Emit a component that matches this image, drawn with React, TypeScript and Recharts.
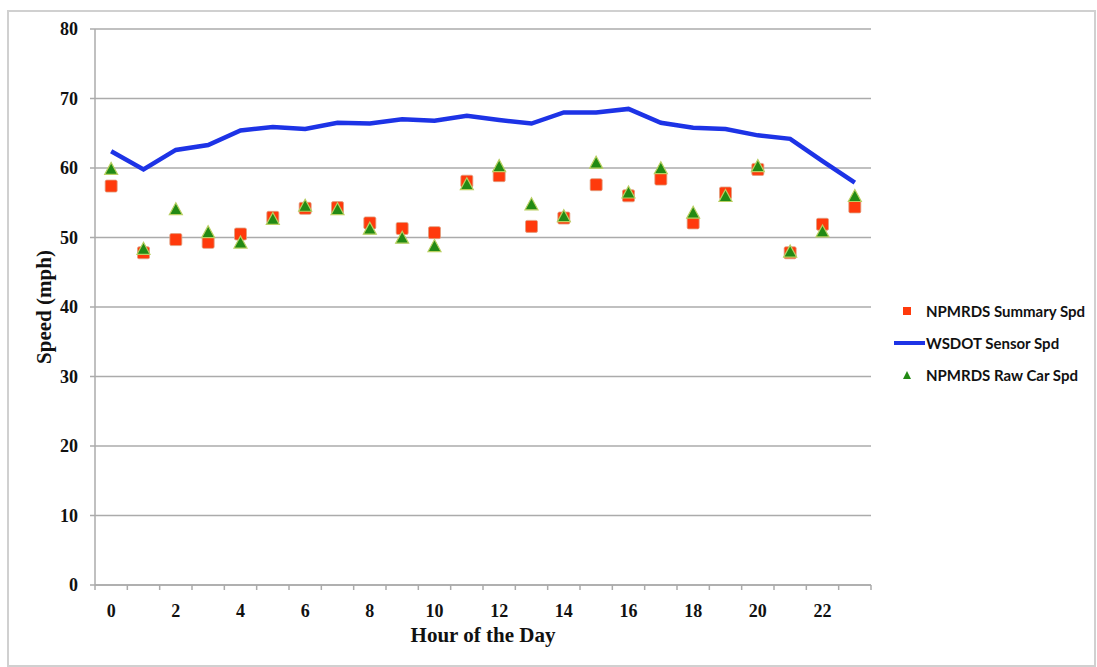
import React from 'react';
import { ComposedChart, Line, Scatter, XAxis, YAxis, CartesianGrid, Label } from 'recharts';

const hours = [0, 1, 2, 3, 4, 5, 6, 7, 8, 9, 10, 11, 12, 13, 14, 15, 16, 17, 18, 19, 20, 21, 22, 23];
const summarySpd = [57.4, 47.8, 49.7, 49.3, 50.5, 52.9, 54.2, 54.3, 52.1, 51.3, 50.7, 58.1, 58.9, 51.6, 52.8, 57.6, 56.0, 58.4, 52.1, 56.4, 59.8, 47.8, 51.9, 54.4];
const sensorSpd = [62.4, 59.8, 62.6, 63.3, 65.4, 65.9, 65.6, 66.5, 66.4, 67.0, 66.8, 67.5, 66.9, 66.4, 68.0, 68.0, 68.5, 66.5, 65.8, 65.6, 64.7, 64.2, 61.0, 57.9];
const rawCarSpd = [59.8, 48.3, 54.0, 50.7, 49.2, 52.6, 54.5, 54.0, 51.2, 49.9, 48.7, 57.6, 60.2, 54.7, 53.0, 60.7, 56.4, 59.9, 53.5, 55.9, 60.2, 47.9, 50.8, 55.9];
const hourLabels = [0, 2, 4, 6, 8, 10, 12, 14, 16, 18, 20, 22];
const speedTicks = [0, 10, 20, 30, 40, 50, 60, 70, 80];

const SERIF = '"Liberation Serif", "Times New Roman", serif';
const SANS = 'Lato, "Open Sans", sans-serif';
const GRID = '#ababab';
const RED = '#ff3a0c';
const BLUE = '#1d33e6';
const GREEN = '#228a14';

const data = hours.map((h, i) => ({
  hour: h,
  summary: summarySpd[i],
  sensor: sensorSpd[i],
  raw: rawCarSpd[i],
}));

// tick marks sit between the hours, labels on every other hour
const edgeTicks = [...hours.map(h => h - 0.5), hours[hours.length - 1] + 0.5];
const xTicks = [...edgeTicks, ...hourLabels].sort((a, b) => a - b);

const HourTick = (props: any) => {
  const { x, y, payload } = props;
  const v = payload.value;
  if (!Number.isInteger(v)) {
    return <line x1={x} x2={x} y1={y} y2={y + 5} stroke={GRID} strokeWidth={1.5} />;
  }
  return (
    <text x={x} y={y + 26} textAnchor="middle" dominantBaseline="central"
      fontFamily={SERIF} fontWeight="bold" fontSize={18} fill="#111">
      {v}
    </text>
  );
};

const Square = (props: any) => {
  const { cx, cy } = props;
  return <rect x={cx - 6} y={cy - 6} width={12} height={12} rx={1.5} fill={RED} stroke="#e0a080" strokeWidth={0.8} />;
};

const Triangle = (props: any) => {
  const { cx, cy } = props;
  return (
    <polygon
      points={`${cx},${cy - 7} ${cx - 6.5},${cy + 5} ${cx + 6.5},${cy + 5}`}
      fill={GREEN}
      stroke="#b9cf62"
      strokeWidth={1.2}
    />
  );
};

const LegendBox = () => {
  const row: React.CSSProperties = { display: 'flex', alignItems: 'center', height: 32, fontFamily: SANS, fontWeight: 700, fontSize: 15, color: '#111', whiteSpace: 'nowrap' };
  return (
    <div style={{ position: 'absolute', left: 894, top: 295, width: 200 }}>
      <div style={row}>
        <svg width={32} height={14}><rect x={9} y={3} width={8} height={8} fill={RED} /></svg>
        <span>NPMRDS Summary Spd</span>
      </div>
      <div style={row}>
        <svg width={32} height={14}><line x1={0} x2={31} y1={7} y2={7} stroke={BLUE} strokeWidth={4} /></svg>
        <span>WSDOT Sensor Spd</span>
      </div>
      <div style={row}>
        <svg width={32} height={14}><polygon points="13,3 9,11 17,11" fill={GREEN} /></svg>
        <span>NPMRDS Raw Car Spd</span>
      </div>
    </div>
  );
};

export default function App() {
  return (
    <div style={{ position: 'relative', width: 1097, height: 667, background: '#fff' }}>
      <style>{'body{margin:0;}'}</style>
      <div style={{ position: 'absolute', left: 7, top: 10, width: 1085, height: 653, border: '2px solid #d0d0d0', pointerEvents: 'none' }} />
      <ComposedChart width={1097} height={667} data={data} margin={{ top: 29, right: 226, bottom: 42, left: 35 }}>
        <CartesianGrid vertical={false} stroke={GRID} strokeWidth={1.5} />
        <XAxis
          dataKey="hour"
          type="number"
          domain={[-0.5, 23.5]}
          ticks={xTicks}
          interval={0}
          tick={<HourTick />}
          tickLine={false}
          tickSize={0}
          tickMargin={0}
          height={40}
          axisLine={{ stroke: GRID, strokeWidth: 1.5 }}
        >
          <Label
            value="Hour of the Day"
            position="bottom"
            offset={2}
            style={{ fontFamily: SERIF, fontWeight: 'bold', fontSize: 21, fill: '#111' }}
          />
        </XAxis>
        <YAxis
          type="number"
          domain={[0, 80]}
          ticks={speedTicks}
          interval={0}
          width={60}
          tickSize={5}
          tickMargin={12}
          tickLine={{ stroke: GRID, strokeWidth: 1.5 }}
          axisLine={{ stroke: GRID, strokeWidth: 1.5 }}
          tick={{ fontFamily: SERIF, fontWeight: 'bold', fontSize: 18, fill: '#111' }}
        >
          <Label
            content={(p: any) => {
              const vb = p.viewBox;
              const cy = vb.y + vb.height / 2;
              return (
                <text x={44} y={cy} transform={`rotate(-90 44 ${cy})`} textAnchor="middle" dominantBaseline="central"
                  fontFamily={SERIF} fontWeight="bold" fontSize={21} fill="#111">
                  Speed (mph)
                </text>
              );
            }}
          />
        </YAxis>
        <Line
          dataKey="sensor"
          name="WSDOT Sensor Spd"
          type="linear"
          stroke={BLUE}
          strokeWidth={4.5}
          dot={false}
          activeDot={false}
          isAnimationActive={false}
        />
        <Scatter dataKey="summary" name="NPMRDS Summary Spd" shape={<Square />} isAnimationActive={false} />
        <Scatter dataKey="raw" name="NPMRDS Raw Car Spd" shape={<Triangle />} isAnimationActive={false} />
      </ComposedChart>
      <LegendBox />
    </div>
  );
}
